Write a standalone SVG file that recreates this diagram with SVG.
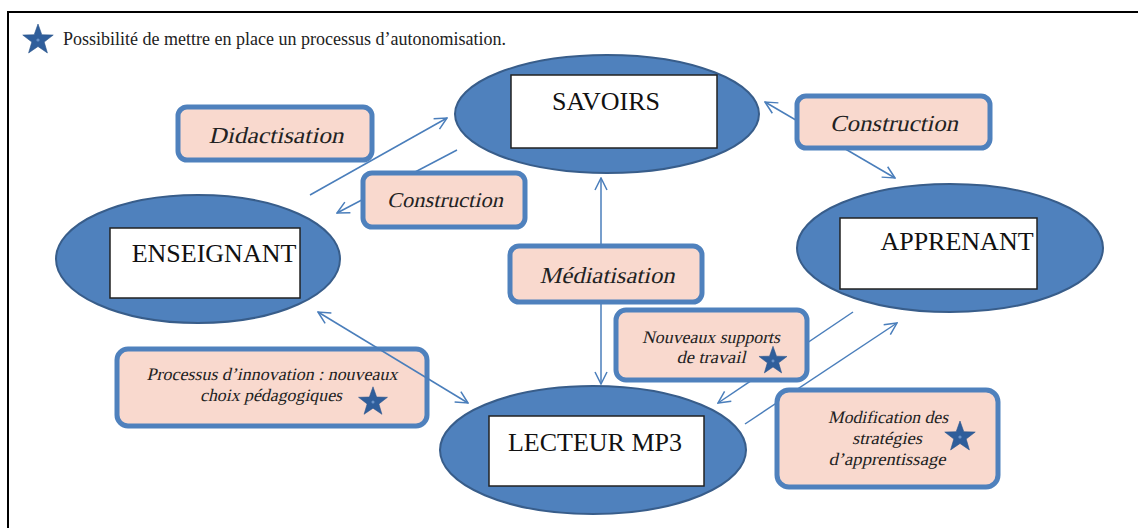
<svg xmlns="http://www.w3.org/2000/svg" width="1138" height="528" viewBox="0 0 1138 528">
<style>
.ell{fill:#4f81bd;stroke:#385d8a;stroke-width:2}
.inner{fill:#fff;stroke:#222;stroke-width:1.5}
.box{fill:#f9d9ce;stroke:#4f81bd;stroke-width:5}
.lbl{font-family:"Liberation Serif","Times New Roman",serif;font-size:26px;fill:#111;text-anchor:middle}
.it{font-family:"Liberation Serif","Times New Roman",serif;fill:#222;text-anchor:middle}
.con{fill:none;stroke:#4a7ebb;stroke-width:1.5}
.star{fill:#2f5e9b;stroke:#2a548a;stroke-width:0.6}
</style>
<defs>
<marker id="ah" viewBox="0 0 14 14" refX="13" refY="7" markerWidth="14" markerHeight="14" markerUnits="userSpaceOnUse" orient="auto-start-reverse">
<path d="M1,1 L13,7 L1,13" fill="none" stroke="#4a7ebb" stroke-width="1.5"/>
</marker>
<g id="star">
<path class="star" d="M0,-16 L3.82,-5.26 L15.22,-4.94 L6.18,2.01 L9.4,12.94 L0,6.5 L-9.4,12.94 L-6.18,2.01 L-15.22,-4.94 L-3.82,-5.26 Z"/>
<circle r="1.6" fill="#6a93c9"/>
</g>
</defs>
<rect width="1138" height="528" fill="#fff"/>
<g id="frame">
<path d="M8,528 L8,12 L1138,12" fill="none" stroke="#000" stroke-width="2"/>
</g>
<g id="legend">
<use href="#star" x="38" y="40"/>
<text x="63" y="45" style="font-family:'Liberation Serif','Times New Roman',serif;font-size:18px;fill:#222">Possibilité de mettre en place un processus d’autonomisation.</text>
</g>
<g id="connectors">
<line class="con" x1="310" y1="195" x2="447" y2="118" marker-end="url(#ah)"/>
<line class="con" x1="457" y1="150" x2="337" y2="213" marker-end="url(#ah)"/>
<line class="con" x1="765" y1="102" x2="895" y2="178" marker-start="url(#ah)" marker-end="url(#ah)"/>
<line class="con" x1="601" y1="178" x2="601" y2="384" marker-start="url(#ah)" marker-end="url(#ah)"/>
<line class="con" x1="853" y1="312" x2="718" y2="403" marker-end="url(#ah)"/>
<line class="con" x1="745" y1="424" x2="897" y2="323" marker-end="url(#ah)"/>
</g>
<g id="savoirs">
<ellipse class="ell" cx="607" cy="114" rx="152" ry="59"/>
<rect class="inner" x="511" y="75" width="206" height="73"/>
<text class="lbl" x="606" y="110">SAVOIRS</text>
</g>
<g id="enseignant">
<ellipse class="ell" cx="198" cy="259" rx="142" ry="64"/>
<rect class="inner" x="110" y="228" width="190" height="70"/>
<text class="lbl" x="214" y="262">ENSEIGNANT</text>
</g>
<g id="apprenant">
<ellipse class="ell" cx="950" cy="248" rx="153" ry="64"/>
<rect class="inner" x="840" y="218" width="197" height="71"/>
<text class="lbl" x="957" y="250">APPRENANT</text>
</g>
<g id="lecteur">
<ellipse class="ell" cx="593" cy="450" rx="153" ry="64"/>
<rect class="inner" x="489" y="416" width="215" height="70"/>
<text class="lbl" x="595" y="451">LECTEUR MP3</text>
</g>
<g id="didactisation">
<rect class="box" x="178" y="107" width="194" height="53" rx="9"/>
<text class="it" transform="translate(276,143) skewX(-13)" font-size="23" textLength="135" lengthAdjust="spacingAndGlyphs">Didactisation</text>
</g>
<g id="construction-right">
<rect class="box" x="797" y="96" width="193" height="52" rx="9"/>
<text class="it" transform="translate(894,131) skewX(-13)" font-size="23" textLength="128" lengthAdjust="spacingAndGlyphs">Construction</text>
</g>
<g id="construction-left">
<rect class="box" x="363" y="173" width="162" height="54" rx="9"/>
<text class="it" transform="translate(445,207) skewX(-13)" font-size="21" textLength="116" lengthAdjust="spacingAndGlyphs">Construction</text>
</g>
<g id="mediatisation">
<rect class="box" x="510" y="246" width="192" height="56" rx="9"/>
<text class="it" transform="translate(607,283) skewX(-13)" font-size="23" textLength="135" lengthAdjust="spacingAndGlyphs">Médiatisation</text>
</g>
<g id="nouveaux">
<rect class="box" x="616" y="310" width="191" height="70" rx="10"/>
<text class="it" transform="translate(711,343) skewX(-13)" font-size="17.5" textLength="138" lengthAdjust="spacingAndGlyphs">Nouveaux supports</text>
<text class="it" transform="translate(711,363) skewX(-13)" font-size="17.5" textLength="69" lengthAdjust="spacingAndGlyphs">de travail</text>
<use href="#star" transform="translate(773,361) scale(0.92)"/>
</g>
<g id="processus">
<rect class="box" x="117" y="349" width="310" height="77" rx="11"/>
<text class="it" transform="translate(272,380) skewX(-13)" font-size="17.5" textLength="251" lengthAdjust="spacingAndGlyphs">Processus d’innovation : nouveaux</text>
<text class="it" transform="translate(271,401) skewX(-13)" font-size="17.5" textLength="142" lengthAdjust="spacingAndGlyphs">choix pédagogiques</text>
<use href="#star" transform="translate(373,402) scale(0.95)"/>
</g>
<g id="modification">
<rect class="box" x="777" y="390" width="221" height="97" rx="12"/>
<text class="it" transform="translate(888,423) skewX(-13)" font-size="17.5" textLength="120" lengthAdjust="spacingAndGlyphs">Modification des</text>
<text class="it" transform="translate(887,444) skewX(-13)" font-size="17.5" textLength="70" lengthAdjust="spacingAndGlyphs">stratégies</text>
<text class="it" transform="translate(887,465) skewX(-13)" font-size="17.5" textLength="117" lengthAdjust="spacingAndGlyphs">d’apprentissage</text>
<use href="#star" transform="translate(960,437) scale(1)"/>
</g>
<g id="connectors-front">
<line class="con" x1="318" y1="312" x2="468" y2="403" marker-start="url(#ah)" marker-end="url(#ah)"/>
</g>
</svg>
